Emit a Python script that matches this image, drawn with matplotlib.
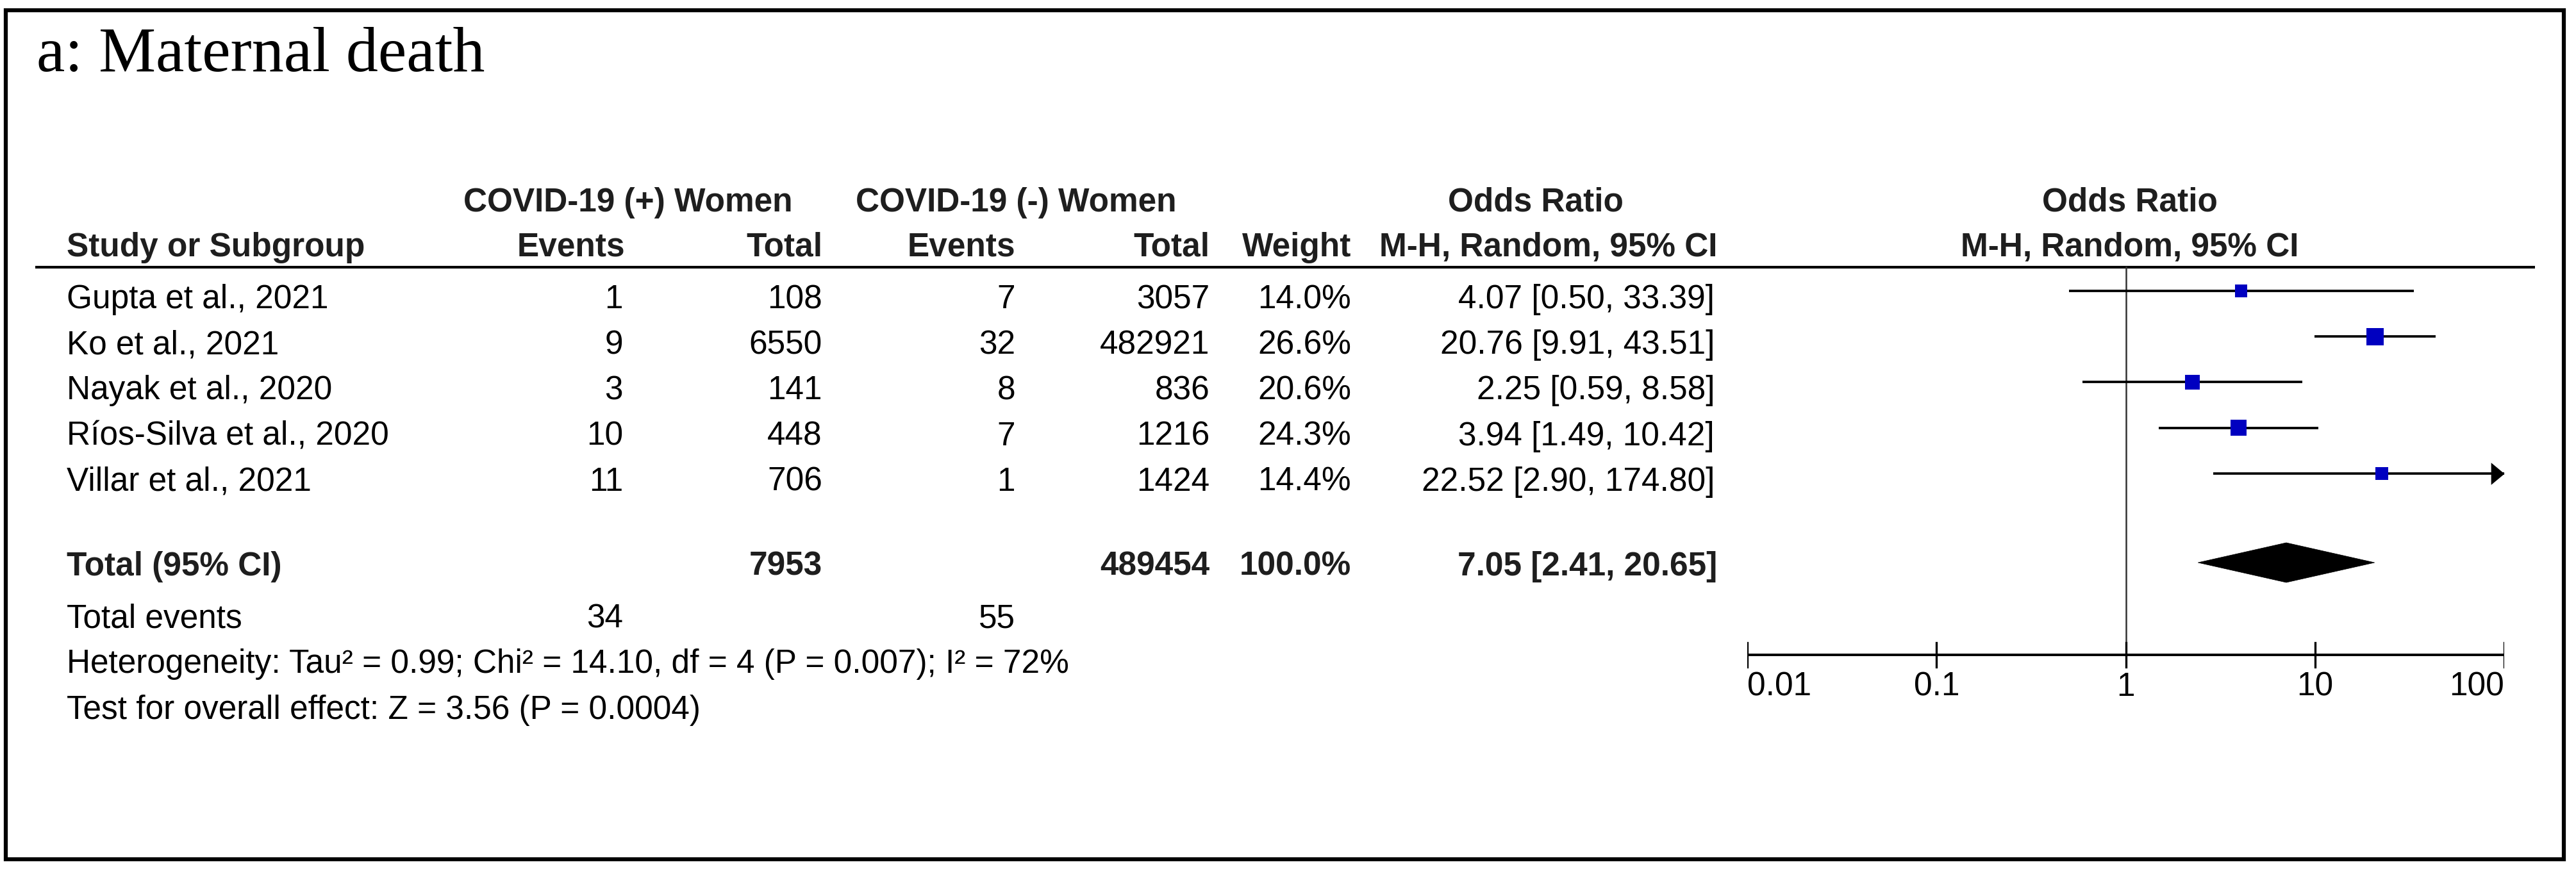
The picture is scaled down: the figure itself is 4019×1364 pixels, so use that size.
import matplotlib
matplotlib.use("Agg")
import matplotlib.pyplot as plt
import numpy as np
from matplotlib.patches import Polygon, Rectangle

# data
studies = ["Gupta et al., 2021", "Ko et al., 2021", "Nayak et al., 2020",
           "Ríos-Silva et al., 2020", "Villar et al., 2021"]
events_pos = [1, 9, 3, 10, 11]
total_pos = [108, 6550, 141, 448, 706]
events_neg = [7, 32, 8, 7, 1]
total_neg = [3057, 482921, 836, 1216, 1424]
weights = [14.0, 26.6, 20.6, 24.3, 14.4]
odds = [4.07, 20.76, 2.25, 3.94, 22.52]
ci_low = [0.50, 9.91, 0.59, 1.49, 2.90]
ci_high = [33.39, 43.51, 8.58, 10.42, 174.80]

pooled = [7.05, 2.41, 20.65]
ticks = [0.01, 0.1, 1, 10, 100]
tick_labels = ["0.01", "0.1", "1", "10", "100"]
heterogeneity = "Heterogeneity: Tau² = 0.99; Chi² = 14.10, df = 4 (P = 0.007); I² = 72%"
overall = "Test for overall effect: Z = 3.56 (P = 0.0004)"

W, H = 4019, 1364
FS = 37
FONT = "Liberation Sans"
HEAD = "#1e1e1e"

fig = plt.figure(figsize=(W / 100, H / 100), dpi=100)
ax = fig.add_axes([0, 0, 1, 1])
ax.set_xlim(0, W)
ax.set_ylim(H, 0)
ax.axis("off")


def txt(x, y, s, ha="left", bold=False):
    ax.text(x, y, s, ha=ha, va="baseline", fontsize=FS, fontfamily=FONT,
            fontweight="bold" if bold else "normal",
            color=HEAD if bold else "black")


# outer frame and title
ax.add_patch(Rectangle((9, 16), 3991, 1325, fill=False, lw=4.5, ec="black"))
ax.text(57, 111, "a: Maternal death", ha="left", va="baseline", fontsize=72,
        fontfamily="Liberation Serif", color="black")

# header
txt(980, 330, "COVID-19 (+) Women", ha="center", bold=True)
txt(1585, 330, "COVID-19 (-) Women", ha="center", bold=True)
txt(2396, 330, "Odds Ratio", ha="center", bold=True)
txt(3323, 330, "Odds Ratio", ha="center", bold=True)
txt(104, 400, "Study or Subgroup", bold=True)
txt(975, 400, "Events", ha="right", bold=True)
txt(1283, 400, "Total", ha="right", bold=True)
txt(1584, 400, "Events", ha="right", bold=True)
txt(1887, 400, "Total", ha="right", bold=True)
txt(2108, 400, "Weight", ha="right", bold=True)
txt(2679, 400, "M-H, Random, 95% CI", ha="right", bold=True)
txt(3323, 400, "M-H, Random, 95% CI", ha="center", bold=True)
ax.plot([55, 3955], [417, 417], color="black", lw=3.0, solid_capstyle="butt")

# study rows
row_y = [481 + i * 71.2 for i in range(len(studies))]
for i, name in enumerate(studies):
    y = row_y[i]
    txt(104, y, name)
    txt(972, y, str(events_pos[i]), ha="right")
    txt(1283, y, str(total_pos[i]), ha="right")
    txt(1584, y, str(events_neg[i]), ha="right")
    txt(1887, y, str(total_neg[i]), ha="right")
    txt(2108, y, f"{weights[i]:.1f}%", ha="right")
    txt(2675, y, f"{odds[i]:.2f} [{ci_low[i]:.2f}, {ci_high[i]:.2f}]", ha="right")

# totals
txt(104, 898, "Total (95% CI)", bold=True)
txt(1283, 898, str(sum(total_pos)), ha="right", bold=True)
txt(1887, 898, str(sum(total_neg)), ha="right", bold=True)
txt(2108, 898, "100.0%", ha="right", bold=True)
txt(2679, 898, f"{pooled[0]:.2f} [{pooled[1]:.2f}, {pooled[2]:.2f}]", ha="right", bold=True)
txt(104, 979, "Total events")
txt(972, 979, str(sum(events_pos)), ha="right")
txt(1584, 979, str(sum(events_neg)), ha="right")
txt(104, 1050, heterogeneity)
txt(104, 1122, overall)

# forest plot on a log axis
fx0, fx1 = 2726, 3907
fax = fig.add_axes([fx0 / W, 0, (fx1 - fx0) / W, 1])
fax.set_xscale("log")
fax.set_xlim(ticks[0], ticks[-1])
fax.set_ylim(H, 0)
fax.axis("off")

axis_y = 1022
fax.plot([1, 1], [417, axis_y], color="#333333", lw=1.8)
fax.plot([ticks[0], ticks[-1]], [axis_y, axis_y], color="black", lw=2.8,
         solid_capstyle="butt")
for t, lab in zip(ticks, tick_labels):
    fax.plot([t, t], [axis_y - 19, axis_y + 19], color="black", lw=2.4)
    ha = "left" if t == ticks[0] else ("right" if t == ticks[-1] else "center")
    fax.text(t, 1086, lab, ha=ha, va="baseline", fontsize=FS, fontfamily=FONT)

arrow = [(0, 0), (-1, -0.83), (-1, 0.83)]
for i in range(len(studies)):
    y = row_y[i] - 27
    hi = min(ci_high[i], ticks[-1])
    fax.plot([ci_low[i], hi], [y, y], color="black", lw=2.7, solid_capstyle="butt")
    if ci_high[i] > ticks[-1]:
        fax.plot([ticks[-1]], [y], marker=arrow, markersize=30, color="black", mew=0)
    side = 5.2 * np.sqrt(weights[i]) * 0.72
    fax.scatter([odds[i]], [y], marker="s", s=side ** 2, color="#0000c0",
                edgecolors="none", zorder=3)

dy = 878
fax.add_patch(Polygon([(pooled[1], dy), (pooled[0], dy - 31),
                       (pooled[2], dy), (pooled[0], dy + 31)],
                      closed=True, fc="black", ec="black", lw=0.5))

fig.savefig("out.png", dpi=100)
